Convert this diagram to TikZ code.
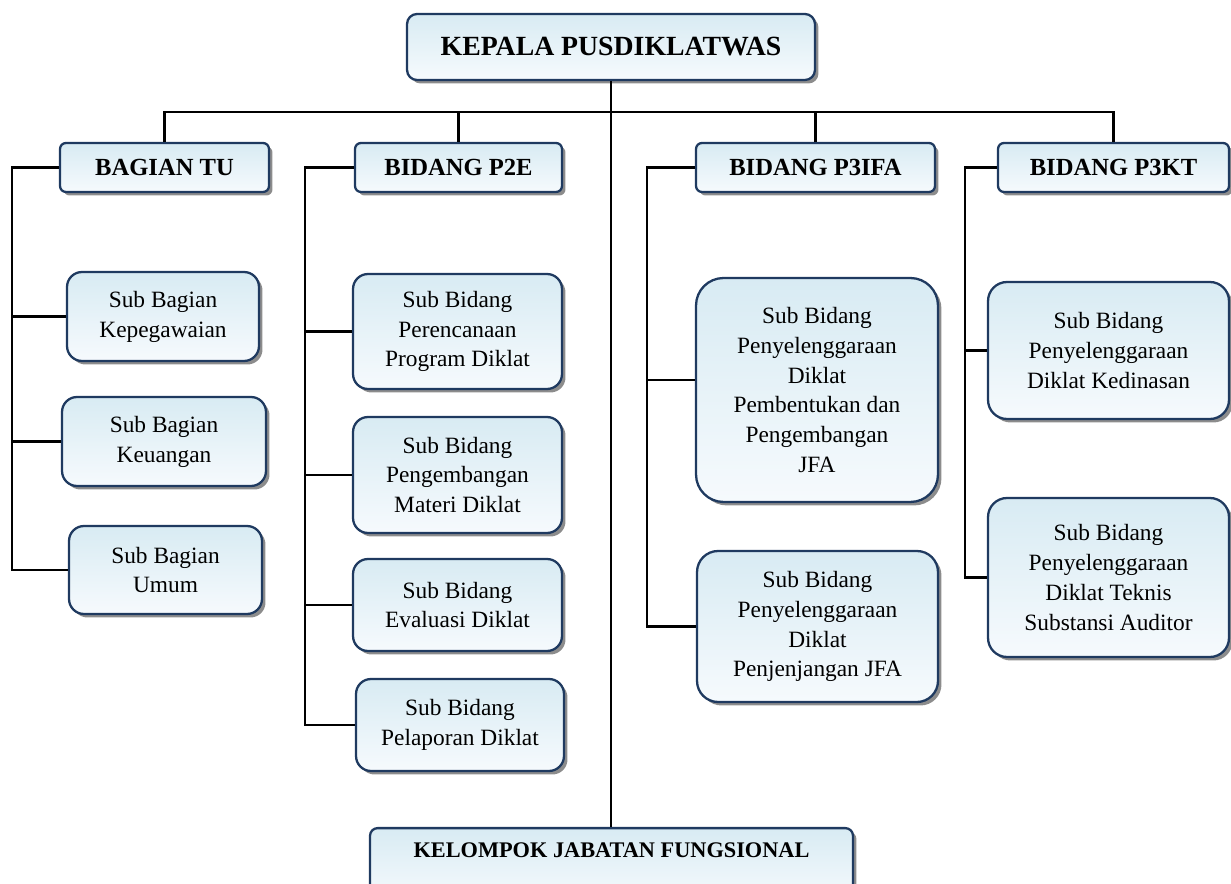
\documentclass[tikz,border=0pt]{standalone}
\usepackage{fontspec}
\setmainfont{Liberation Serif}
\usepackage{tikz}
\usetikzlibrary{shadows, positioning, calc}
\definecolor{boxtop}{HTML}{D8EBF3}
\definecolor{boxbot}{HTML}{F6FAFD}
\definecolor{boxline}{HTML}{1F3A60}
\tikzset{
    unit/.style={rectangle, draw=boxline, line width=1.3pt, top color=boxtop, bottom color=boxbot, align=center, inner sep=0pt, drop shadow={shadow xshift=0.07cm, shadow yshift=-0.07cm, fill=black!60, opacity=0.75}},
    headbox/.style={unit, rounded corners=0.12cm, font=\fontsize{14}{16}\selectfont\bfseries, minimum height=0.98cm},
    subbox/.style={unit, rounded corners=0.3cm, font=\fontsize{13.3}{17}\selectfont},
    conn/.style={line width=1.3pt, black}
}

\begin{document}
\begin{tikzpicture}[x=0.02cm, y=-0.02cm]
            \useasboundingbox (0,0) rectangle (1231,884);
            \clip (0,0) rectangle (1231,884);

            \node[headbox, minimum width=8.16cm, minimum height=1.32cm, rounded corners=0.2cm, font=\fontsize{15.8}{18}\selectfont\bfseries] (kepala) at (611,47) {KEPALA PUSDIKLATWAS};

            \node[headbox, minimum width=4.18cm] (tu) at (164.5,167.5) {BAGIAN TU};
            \node[headbox, minimum width=4.14cm] (p2e) at (458.5,167.5) {BIDANG P2E};
            \node[headbox, minimum width=4.78cm] (p3ifa) at (815.5,167.5) {BIDANG P3IFA};
            \node[headbox, minimum width=4.62cm] (p3kt) at (1113.5,167.5) {BIDANG P3KT};

            \node[subbox, minimum width=3.84cm, minimum height=1.78cm] (kepeg) at (163,316.5) {Sub Bagian\\Kepegawaian};
            \node[subbox, minimum width=4.08cm, minimum height=1.78cm] (keu) at (164,441.5) {Sub Bagian\\Keuangan};
            \node[subbox, minimum width=3.86cm, minimum height=1.76cm] (umum) at (165.5,570) {Sub Bagian\\Umum};

            \node[subbox, minimum width=4.18cm, minimum height=2.30cm] (renc) at (457.5,331.5) {Sub Bidang\\Perencanaan\\Program Diklat};
            \node[subbox, minimum width=4.18cm, minimum height=2.32cm] (bang) at (457.5,475) {Sub Bidang\\Pengembangan\\Materi Diklat};
            \node[subbox, minimum width=4.18cm, minimum height=1.84cm] (eval) at (457.5,605) {Sub Bidang\\Evaluasi Diklat};
            \node[subbox, minimum width=4.16cm, minimum height=1.84cm] (lapor) at (460,725) {Sub Bidang\\Pelaporan Diklat};

            \node[subbox, minimum width=4.84cm, minimum height=4.48cm, rounded corners=0.55cm] (bentuk) at (817,390) {Sub Bidang\\Penyelenggaraan\\Diklat\\Pembentukan dan\\Pengembangan\\JFA};
            \node[subbox, minimum width=4.82cm, minimum height=3.02cm, rounded corners=0.42cm] (jenjang) at (817.5,626.5) {Sub Bidang\\Penyelenggaraan\\Diklat\\Penjenjangan JFA};

            \node[subbox, minimum width=4.82cm, minimum height=2.74cm, rounded corners=0.38cm] (dinas) at (1108.5,350.5) {Sub Bidang\\Penyelenggaraan\\Diklat Kedinasan};
            \node[subbox, minimum width=4.82cm, minimum height=3.18cm, rounded corners=0.38cm] (teknis) at (1108.5,577.5) {Sub Bidang\\Penyelenggaraan\\Diklat Teknis\\Substansi Auditor};

            \node[headbox, anchor=north, minimum width=9.66cm, text height=0.58cm, text depth=0.9cm, rounded corners=0.15cm, font=\fontsize{12.7}{14}\selectfont\bfseries] (kjf) at (611.5,827) {KELOMPOK JABATAN FUNGSIONAL};

            % garis ke kepala
            \coordinate (bus) at (611,112);
            \draw[conn] (kepala.south) -- (kepala.south |- kjf.north);
            \draw[conn] (tu.north) |- (bus) -| (p3kt.north);
            \draw[conn] (p2e.north) -- (p2e.north |- bus);
            \draw[conn] (p3ifa.north) -- (p3ifa.north |- bus);

            % bagian tu
            \coordinate (tuspine) at (12,570);
            \draw[conn] (tu.west) -| (tuspine) -- (umum.west);
            \draw[conn] (kepeg.west) -- (kepeg.west -| tuspine);
            \draw[conn] (keu.west) -- (keu.west -| tuspine);

            % bidang p2e
            \coordinate (p2espine) at (305,725);
            \draw[conn] (p2e.west) -| (p2espine) -- (lapor.west);
            \draw[conn] (renc.west) -- (renc.west -| p2espine);
            \draw[conn] (bang.west) -- (bang.west -| p2espine);
            \draw[conn] (eval.west) -- (eval.west -| p2espine);

            % bidang p3ifa
            \coordinate (p3ifaspine) at (647,626.5);
            \draw[conn] (p3ifa.west) -| (p3ifaspine) -- (jenjang.west);
            \draw[conn] ([yshift=0.2cm]bentuk.west) -- ([yshift=0.2cm]bentuk.west -| p3ifaspine);

            % bidang p3kt
            \coordinate (p3ktspine) at (965,577.5);
            \draw[conn] (p3kt.west) -| (p3ktspine) -- (teknis.west);
            \draw[conn] (dinas.west) -- (dinas.west -| p3ktspine);
        \end{tikzpicture}
\end{document}
